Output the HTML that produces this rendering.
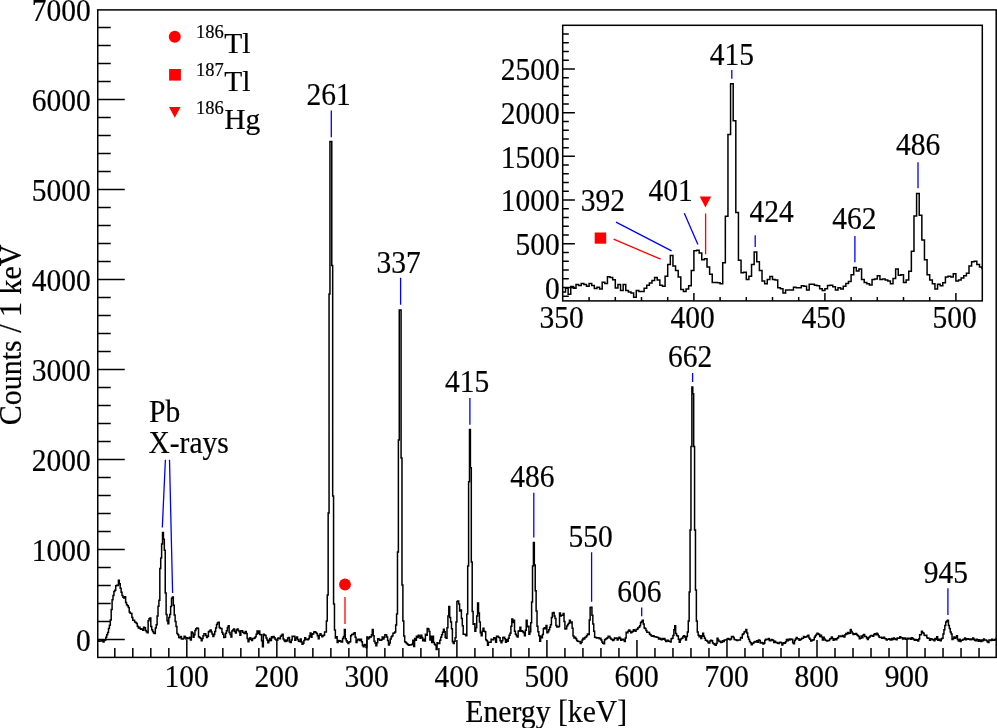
<!DOCTYPE html>
<html><head><meta charset="utf-8"><style>
html,body{margin:0;padding:0;background:#fff;}
svg{display:block;will-change:transform;}
text{font-family:"Liberation Serif",serif;stroke:#000;stroke-width:0.2px;}
</style></head><body>
<svg width="997" height="728" viewBox="0 0 997 728" font-family="Liberation Serif" font-size="29.5" fill="#000">
<path d="M97.75,640.3H98.6V641.25H99.5V640.94H100.4V641.05H101.3V640.46H102.2V640.97H103.1V641.99H104V640.48H104.9V639.93H105.8V637.2H106.7V634.72H107.6V632.38H108.5V628.47H109.4V625.28H110.3V619.91H111.2V609.6H112.1V599.65H113V595.4H113.9V591.49H114.8V590.23H115.71V585.74H116.61V585.14H117.51V585.42H118.41V580.29H119.31V583.65H120.21V588.32H121.11V592.17H122.01V595.57H122.91V597.25H123.81V597.9H124.71V596.8H125.61V602.41H126.51V604.72H127.41V605.79H128.31V607.61H129.21V611.95H130.11V613.32H131.01V613.53H131.91V617.48H132.81V620.24H133.71V620.35H134.61V621.9H135.51V622.44H136.41V623.41H137.31V626.24H138.21V628H139.11V627.19H140.01V628.76H140.91V629.22H141.81V628.95H142.71V630.2H143.61V627.15H144.51V627.76H145.41V630.46H146.31V631.66H147.21V632.66H148.11V620.65H149.01V618.79H149.91V618.1H150.81V626.46H151.72V629.81H152.62V631.51H153.52V633.06H154.42V633.49H155.32V628.06H156.22V624.78H157.12V615.93H158.02V606.37H158.92V600.33H159.82V568.4H160.72V557.98H161.62V543.9H162.52V532.6H163.42V539.2H164.32V550.2H165.22V592.99H166.12V614.45H167.02V620.66H167.92V623.68H168.82V617.59H169.72V614.5H170.62V606.41H171.52V598.2H172.42V597.08H173.32V605.15H174.22V615.03H175.12V621.4H176.02V626.39H176.92V633.58H177.82V634.77H178.72V637.41H179.62V637.77H180.52V636.42H181.42V639.05H182.32V639.06H183.22V638.5H184.12V636.31H185.02V637.19H185.92V639.06H186.82V637.75H187.73V638.44H188.63V638.52H189.53V637.27H190.43V640.09H191.33V632.04H192.23V633.12H193.13V637.36H194.03V634.76H194.93V630.53H195.83V628.72H196.73V628.03H197.63V628.57H198.53V636.83H199.43V637.58H200.33V638.15H201.23V640.66H202.13V638.6H203.03V635.64H203.93V633.72H204.83V633.69H205.73V635.58H206.63V637.46H207.53V636.13H208.43V631.71H209.33V631.01H210.23V630.07H211.13V632.07H212.03V634.05H212.93V636.4H213.83V634.42H214.73V631.38H215.63V628.08H216.53V624.49H217.43V622.76H218.33V622.16H219.23V627.52H220.13V628.42H221.03V628.4H221.93V632.46H222.83V634.25H223.74V637.47H224.64V637.36H225.54V633.33H226.44V630.8H227.34V627.61H228.24V625.84H229.14V632.43H230.04V634.56H230.94V636.97H231.84V630.88H232.74V629.92H233.64V629.1H234.54V631.57H235.44V632.89H236.34V630.03H237.24V628.92H238.14V630.38H239.04V631.75H239.94V635.24H240.84V630.78H241.74V630.81H242.64V632.32H243.54V633.12H244.44V633.44H245.34V631.47H246.24V633.41H247.14V638.57H248.04V641.67H248.94V639.58H249.84V637.86H250.74V639.13H251.64V640.57H252.54V638.54H253.44V638.62H254.34V637.93H255.24V636.71H256.14V634.17H257.04V630.91H257.94V633.47H258.84V631.04H259.75V634.47H260.65V634.81H261.55V640.68H262.45V646.86H263.35V634.28H264.25V634.89H265.15V635.54H266.05V637.94H266.95V639.96H267.85V642.73H268.75V640.87H269.65V638.56H270.55V640.46H271.45V636.75H272.35V637.8H273.25V636.39H274.15V637.81H275.05V639.16H275.95V640.08H276.85V640.27H277.75V638.3H278.65V638.09H279.55V638.64H280.45V636.34H281.35V635.25H282.25V634.32H283.15V639.12H284.05V640.5H284.95V641.46H285.85V639.91H286.75V641H287.65V638.03H288.55V637.51H289.45V641.73H290.35V642.39H291.25V639.99H292.15V636.29H293.05V636.53H293.95V636.26H294.86V640.13H295.76V638.32H296.66V637.12H297.56V639.5H298.46V641.33H299.36V641.51H300.26V638.88H301.16V641.92H302.06V644.29H302.96V643.36H303.86V640.45H304.76V637.7H305.66V639.45H306.56V639.33H307.46V639.8H308.36V638.87H309.26V635.92H310.16V633.06H311.06V637.29H311.96V634.32H312.86V633.8H313.76V631.95H314.66V631.73H315.56V632.56H316.46V633.47H317.36V635.63H318.26V638.66H319.16V635.36H320.06V633.63H320.96V635.15H321.86V636.7H322.76V635.66H323.66V635.25H324.56V631.91H325.46V631.93H326.36V621H327.26V595H328.16V513H329.06V294H329.96V141.5H330.87V141.5H331.77V265.6H332.67V496H333.57V604H334.47V630H335.37V638H336.27V636.73H337.17V642.56H338.07V640.51H338.97V641.18H339.87V640.85H340.77V641.83H341.67V641.93H342.57V638.49H343.47V636.44H344.37V629.44H345.27V638.72H346.17V640.63H347.07V642.33H347.97V643.49H348.87V642.1H349.77V641.86H350.67V635.67H351.57V634.42H352.47V634.38H353.37V633.43H354.27V632.81H355.17V637.3H356.07V642.53H356.97V640.47H357.87V639.29H358.77V639.19H359.67V640.44H360.57V639.25H361.47V641.8H362.37V645.42H363.27V646.67H364.17V644.41H365.07V645.27H365.97V647.49H366.88V637.11H367.78V639.06H368.68V638.06H369.58V636.75H370.48V636.98H371.38V634.68H372.28V629.62H373.18V635.68H374.08V641.23H374.98V643H375.88V645.82H376.78V642.75H377.68V638.83H378.58V638.88H379.48V640.13H380.38V640.23H381.28V639.69H382.18V637.03H383.08V639.02H383.98V637.26H384.88V634.66H385.78V634.89H386.68V637.05H387.58V640.45H388.48V644.88H389.38V642.89H390.28V638.96H391.18V636.76H392.08V635.71H392.98V633.2H393.88V632.96H394.78V632H395.68V625H396.58V614H397.48V552H398.38V440H399.28V310H400.18V310H401.08V458H401.98V585H402.88V621H403.79V636H404.69V641.77H405.59V642.38H406.49V643.46H407.39V644.23H408.29V645.16H409.19V644.82H410.09V645.07H410.99V644.69H411.89V644.24H412.79V640.33H413.69V646.41H414.59V638.47H415.49V640.33H416.39V636.31H417.29V637.44H418.19V635.28H419.09V636.31H419.99V638.16H420.89V635.28H421.79V637.44H422.69V640.64H423.59V639.19H424.49V641.05H425.39V634.15H426.29V635.28H427.19V628.38H428.09V629.1H428.99V631.57H429.89V639.92H430.79V636.31H431.69V642.49H432.59V636.31H433.49V642.49H434.39V644.14H435.29V645.17H436.19V649.6H437.09V642.7H437.99V643.62H438.89V643.62H439.8V640.22H440.7V637.24H441.6V634.76H442.5V632.29H443.4V629.3H444.3V631.78H445.2V637.24H446.1V638.27H447V627.86H447.9V615.91H448.8V606.53H449.7V617.45H450.6V621.88H451.5V628.79H452.4V641.67H453.3V643.62H454.2V641.15H455.1V637.75H456V621.88H456.9V601.59H457.8V601.07H458.7V604.06H459.6V610.96H460.5V609.93H461.4V618.38H462.3V625.8H463.2V634.25H464.1V634.25H465V634.56H465.9V635.69H466.8V613.95H467.7V566.04H468.6V481.86H469.5V429.52H470.4V467.64H471.3V562.12H472.2V611.48H473.1V624.36H474V623.84H474.91V631.26H475.81V627.86H476.71V615.91H477.61V603.03H478.51V612.92H479.41V621.88H480.31V632.81H481.21V635.69H482.11V631.26H483.01V628.27H483.91V631.26H484.81V631.78H485.71V639.71H486.61V640.74H487.51V645.17H488.41V642.18H489.31V642.18H490.21V642.18H491.11V639.19H492.01V639.71H492.91V639.71H493.81V637.75H494.71V638.27H495.61V642.18H496.51V636.21H497.41V636.21H498.31V637.24H499.21V637.75H500.11V640.74H501.01V642.7H501.91V640.74H502.81V637.55H503.71V637.24H504.61V638.68H505.51V642.18H506.41V639.71H507.31V641.15H508.21V638.27H509.11V635.28H510.01V633.22H510.92V626.31H511.82V618.9H512.72V622.4H513.62V620.34H514.52V631.26H515.42V634.25H516.32V635.69H517.22V636.93H518.12V631.26H519.02V630.75H519.92V627.35H520.82V631.26H521.72V630.75H522.62V631.78H523.52V632.81H524.42V635.69H525.32V630.33H526.22V620.34H527.12V626.83H528.02V626.31H528.92V634.25H529.82V631.78H530.72V622.81H531.62V602.1H532.52V565.94H533.42V542.55H534.32V565.11H535.22V590.67H536.12V610.96H537.02V626.31H537.92V631.78H538.82V635.69H539.72V641.15H540.62V636.21H541.52V637.75H542.42V634.56H543.32V628.79H544.22V627.86H545.12V628.79H546.02V625.39H546.92V632.81H547.83V631.78H548.73V629.82H549.63V627.35H550.53V624.87H551.43V617.45H552.33V612.92H553.23V612.51H554.13V615.91H555.03V618.38H555.93V625.61H556.83V627H557.73V626.97H558.63V626.62H559.53V612.93H560.43V615.97H561.33V615.21H562.23V615.26H563.13V613.53H564.03V621.59H564.93V629.08H565.83V628.86H566.73V626.01H567.63V624.55H568.53V623.31H569.43V620.24H570.33V622.63H571.23V622.06H572.13V628.14H573.03V635.96H573.93V637.94H574.83V637.18H575.73V638.65H576.63V640.57H577.53V641.15H578.43V641.58H579.33V641.62H580.23V643.55H581.13V642.24H582.03V640.04H582.93V638.25H583.84V638.96H584.74V637.61H585.64V636.96H586.54V635.83H587.44V633.9H588.34V634.41H589.24V620.07H590.14V607.5H591.04V607.35H591.94V615.32H592.84V624.02H593.74V631.3H594.64V637.27H595.54V637.4H596.44V637.91H597.34V637.77H598.24V637.65H599.14V638.77H600.04V638.34H600.94V639.96H601.84V641.9H602.74V643.29H603.64V643.71H604.54V639.83H605.44V639.11H606.34V638.44H607.24V637.73H608.14V636.13H609.04V636.54H609.94V638.03H610.84V639.04H611.74V639.55H612.64V640.45H613.54V639.63H614.44V637.94H615.34V638.35H616.24V638.02H617.14V639.95H618.04V638.83H618.94V637.26H619.85V638.3H620.75V640.26H621.65V639.56H622.55V639.3H623.45V640.09H624.35V641.42H625.25V638.02H626.15V632.24H627.05V632.79H627.95V631.27H628.85V629.98H629.75V631.25H630.65V632.72H631.55V631.88H632.45V631.52H633.35V629.83H634.25V630.58H635.15V631.28H636.05V629.49H636.95V629.13H637.85V627.78H638.75V627.23H639.65V625.73H640.55V622.44H641.45V621.39H642.35V620.23H643.25V624.02H644.15V627.98H645.05V628.43H645.95V630.56H646.85V632.18H647.75V632.21H648.65V632.47H649.55V634.35H650.45V635.07H651.35V636.12H652.25V636.13H653.15V635.82H654.05V636.71H654.95V636.63H655.86V636.94H656.76V637.28H657.66V637.41H658.56V638.98H659.46V638.26H660.36V639.2H661.26V639.7H662.16V638.53H663.06V639.35H663.96V638.56H664.86V640.04H665.76V641.45H666.66V641.09H667.56V640.36H668.46V641.37H669.36V641.27H670.26V642.09H671.16V638.71H672.06V638.19H672.96V635.49H673.86V629.85H674.76V625.84H675.66V633.42H676.56V635.56H677.46V636.08H678.36V639.14H679.26V642.2H680.16V639.63H681.06V638.42H681.96V638.15H682.86V636.4H683.76V635.78H684.66V636.93H685.56V639.9H686.46V636.57H687.36V631.96H688.26V621H689.16V592H690.06V530H690.96V446.6H691.87V387H692.77V393.7H693.67V446.6H694.57V530H695.47V590H696.37V621H697.27V632H698.17V635.27H699.07V636.84H699.97V635.85H700.87V638.6H701.77V635.97H702.67V633.34H703.57V636.23H704.47V638.3H705.37V640.34H706.27V640.43H707.17V641.19H708.07V642.76H708.97V642.94H709.87V641.07H710.77V640.35H711.67V640.86H712.57V642.96H713.47V643.75H714.37V644.56H715.27V645.36H716.17V643.61H717.07V638.22H717.97V640H718.87V641.48H719.77V641.2H720.67V642.43H721.57V642.16H722.47V640.72H723.37V641.5H724.27V640.12H725.17V640.07H726.07V639.81H726.97V638.97H727.88V638.53H728.78V639.33H729.68V639.65H730.58V638.91H731.48V636.44H732.38V636.5H733.28V637.49H734.18V639.4H735.08V639.84H735.98V640.11H736.88V640.56H737.78V639.93H738.68V640.07H739.58V640.12H740.48V637.57H741.38V638.06H742.28V634.6H743.18V633.68H744.08V632.1H744.98V631.59H745.88V629.5H746.78V632.88H747.68V637.1H748.58V639.24H749.48V641.57H750.38V642.69H751.28V644.82H752.18V643.56H753.08V643.03H753.98V642.11H754.88V641.58H755.78V642.11H756.68V640.84H757.58V642.17H758.48V639.99H759.38V640.6H760.28V643.12H761.18V642.42H762.08V642.8H762.98V643.94H763.89V643.22H764.79V640.14H765.69V639.21H766.59V639.47H767.49V639.57H768.39V638.38H769.29V640.55H770.19V640.66H771.09V639.52H771.99V639.81H772.89V640.6H773.79V642.53H774.69V641.28H775.59V642.54H776.49V642.62H777.39V643.24H778.29V643.44H779.19V642.47H780.09V642.19H780.99V642.78H781.89V645.05H782.79V643.42H783.69V642.81H784.59V643.22H785.49V641.66H786.39V639.44H787.29V640.83H788.19V639.16H789.09V639.94H789.99V638.94H790.89V639.56H791.79V639.14H792.69V642.87H793.59V643.69H794.49V640.6H795.39V638.93H796.29V637.39H797.19V638.74H798.09V638.68H799V640.15H799.9V639.63H800.8V639.33H801.7V638.13H802.6V638.31H803.5V636.46H804.4V637.14H805.3V637.03H806.2V636.86H807.1V636H808V635.28H808.9V638H809.8V639.21H810.7V640.98H811.6V640.52H812.5V640H813.4V639.82H814.3V637.27H815.2V635.85H816.1V634.59H817V633.24H817.9V633.83H818.8V634.54H819.7V636.48H820.6V635.3H821.5V637H822.4V640.04H823.3V637.23H824.2V639.02H825.1V640.34H826V640.49H826.9V640.88H827.8V640.61H828.7V640.4H829.6V639.03H830.5V638.42H831.4V636.97H832.3V638.5H833.2V640.2H834.1V639.15H835V638.78H835.91V639.76H836.81V638.48H837.71V637.77H838.61V636H839.51V635.92H840.41V636.53H841.31V636.52H842.21V635.47H843.11V636.58H844.01V636.96H844.91V634.73H845.81V633.52H846.71V634.06H847.61V632.53H848.51V633.51H849.41V633.13H850.31V629.56H851.21V631.38H852.11V632.88H853.01V634.42H853.91V633.67H854.81V634.32H855.71V633.58H856.61V634.79H857.51V635.56H858.41V636.38H859.31V638.86H860.21V638.25H861.11V635.95H862.01V637.8H862.91V635.32H863.81V634.56H864.71V636.62H865.61V636.6H866.51V637.9H867.41V639.59H868.31V637.71H869.21V636.9H870.11V636.11H871.01V635.46H871.92V635.8H872.82V636.15H873.72V634.5H874.62V633.82H875.52V634.79H876.42V633.35H877.32V634.13H878.22V635.82H879.12V637.36H880.02V637.59H880.92V637.27H881.82V638.22H882.72V638H883.62V637.29H884.52V638.62H885.42V638.8H886.32V639.97H887.22V639.33H888.12V639.2H889.02V638.84H889.92V639.84H890.82V640.02H891.72V638.54H892.62V639.44H893.52V638.09H894.42V638.67H895.32V639.14H896.22V639.68H897.12V638.09H898.02V638.18H898.92V638.24H899.82V636.74H900.72V637.81H901.62V637.75H902.52V639.03H903.42V638.28H904.32V638.02H905.22V639.31H906.12V639.18H907.02V638.24H907.93V639.11H908.83V638.34H909.73V638.23H910.63V639.24H911.53V637.75H912.43V638.62H913.33V639.3H914.23V640.14H915.13V639.47H916.03V640.24H916.93V639.83H917.83V641.04H918.73V639.08H919.63V634.85H920.53V634.66H921.43V631.18H922.33V632.41H923.23V633.14H924.13V635.18H925.03V635.61H925.93V635.19H926.83V637.72H927.73V638.23H928.63V638.3H929.53V640.32H930.43V638.67H931.33V639H932.23V639.74H933.13V639.49H934.03V640.68H934.93V638.51H935.83V639.3H936.73V636.84H937.63V640.25H938.53V639.3H939.43V640.34H940.33V640.85H941.23V638.76H942.13V638.2H943.03V634.12H943.94V629.83H944.84V625.57H945.74V622.01H946.64V620.94H947.54V620.35H948.44V625.56H949.34V628.39H950.24V632.1H951.14V633.97H952.04V639.53H952.94V638.44H953.84V636.96H954.74V638.36H955.64V637.28H956.54V635.83H957.44V639.54H958.34V641.08H959.24V639.25H960.14V641.49H961.04V640.17H961.94V640.31H962.84V639.61H963.74V639.18H964.64V637.91H965.54V639.78H966.44V639.02H967.34V638.77H968.24V639.28H969.14V639.06H970.04V639.67H970.94V638.99H971.84V639.4H972.74V637.89H973.64V639.26H974.54V640.14H975.44V640.67H976.34V639.31H977.24V639.64H978.14V641.15H979.04V639.77H979.95V640.79H980.85V641.41H981.75V639.95H982.65V640.75H983.55V639.03H984.45V640.03H985.35V640.1H986.25V640.56H987.15V641.7H988.05V642.58H988.95V639.98H989.85V639.91H990.75V640.6H991.65V639.23H992.55V640.34H993.45V640.26H994.35V639.38H995.25V640.02H996.15V638.36H996.2" fill="none" stroke="#000" stroke-width="1.5" stroke-linejoin="miter"/>
<rect x="97.75" y="9.9" width="898.45" height="647.5" fill="none" stroke="#000" stroke-width="1.5"/>
<path d="M97.75,639.4 h27 M97.75,621.4 h13 M97.75,603.4 h13 M97.75,585.4 h13 M97.75,567.4 h13 M97.75,549.4 h27 M97.75,531.4 h13 M97.75,513.4 h13 M97.75,495.4 h13 M97.75,477.4 h13 M97.75,459.4 h27 M97.75,441.4 h13 M97.75,423.4 h13 M97.75,405.4 h13 M97.75,387.4 h13 M97.75,369.4 h27 M97.75,351.4 h13 M97.75,333.4 h13 M97.75,315.4 h13 M97.75,297.4 h13 M97.75,279.4 h27 M97.75,261.4 h13 M97.75,243.4 h13 M97.75,225.4 h13 M97.75,207.4 h13 M97.75,189.4 h27 M97.75,171.4 h13 M97.75,153.4 h13 M97.75,135.4 h13 M97.75,117.4 h13 M97.75,99.4 h27 M97.75,81.4 h13 M97.75,63.4 h13 M97.75,45.4 h13 M97.75,27.4 h13 M114.8,657.4 v-9.5 M132.81,657.4 v-9.5 M150.81,657.4 v-9.5 M168.82,657.4 v-9.5 M186.82,657.4 v-17.5 M204.83,657.4 v-9.5 M222.83,657.4 v-9.5 M240.84,657.4 v-9.5 M258.84,657.4 v-9.5 M276.85,657.4 v-17.5 M294.86,657.4 v-9.5 M312.86,657.4 v-9.5 M330.87,657.4 v-9.5 M348.87,657.4 v-9.5 M366.88,657.4 v-17.5 M384.88,657.4 v-9.5 M402.88,657.4 v-9.5 M420.89,657.4 v-9.5 M438.89,657.4 v-9.5 M456.9,657.4 v-17.5 M474.91,657.4 v-9.5 M492.91,657.4 v-9.5 M510.92,657.4 v-9.5 M528.92,657.4 v-9.5 M546.92,657.4 v-17.5 M564.93,657.4 v-9.5 M582.93,657.4 v-9.5 M600.94,657.4 v-9.5 M618.94,657.4 v-9.5 M636.95,657.4 v-17.5 M654.95,657.4 v-9.5 M672.96,657.4 v-9.5 M690.96,657.4 v-9.5 M708.97,657.4 v-9.5 M726.97,657.4 v-17.5 M744.98,657.4 v-9.5 M762.98,657.4 v-9.5 M780.99,657.4 v-9.5 M799,657.4 v-9.5 M817,657.4 v-17.5 M835,657.4 v-9.5 M853.01,657.4 v-9.5 M871.01,657.4 v-9.5 M889.02,657.4 v-9.5 M907.02,657.4 v-17.5 M925.03,657.4 v-9.5 M943.03,657.4 v-9.5 M961.04,657.4 v-9.5 M979.04,657.4 v-9.5" stroke="#000" stroke-width="1.5" fill="none"/>
<text transform="translate(90.7,651) scale(1,1.07)" text-anchor="end">0</text>
<text transform="translate(90.7,561) scale(1,1.07)" text-anchor="end">1000</text>
<text transform="translate(90.7,471) scale(1,1.07)" text-anchor="end">2000</text>
<text transform="translate(90.7,381) scale(1,1.07)" text-anchor="end">3000</text>
<text transform="translate(90.7,291) scale(1,1.07)" text-anchor="end">4000</text>
<text transform="translate(90.7,201) scale(1,1.07)" text-anchor="end">5000</text>
<text transform="translate(90.7,111) scale(1,1.07)" text-anchor="end">6000</text>
<text transform="translate(90.7,21) scale(1,1.07)" text-anchor="end">7000</text>
<text transform="translate(186.52,687) scale(1,1.07)" text-anchor="middle">100</text>
<text transform="translate(276.55,687) scale(1,1.07)" text-anchor="middle">200</text>
<text transform="translate(366.57,687) scale(1,1.07)" text-anchor="middle">300</text>
<text transform="translate(456.6,687) scale(1,1.07)" text-anchor="middle">400</text>
<text transform="translate(546.62,687) scale(1,1.07)" text-anchor="middle">500</text>
<text transform="translate(636.65,687) scale(1,1.07)" text-anchor="middle">600</text>
<text transform="translate(726.67,687) scale(1,1.07)" text-anchor="middle">700</text>
<text transform="translate(816.7,687) scale(1,1.07)" text-anchor="middle">800</text>
<text transform="translate(906.73,687) scale(1,1.07)" text-anchor="middle">900</text>
<text transform="translate(627.2,721.5) scale(1,1.05)" text-anchor="end" font-size="29.7">Energy [keV]</text>
<text transform="translate(20.5,244.5) rotate(-90) scale(1,1.05)" text-anchor="end" font-size="30">Counts / 1 keV</text>
<circle cx="174.8" cy="36.8" r="6" fill="#f00"/>
<rect x="169.1" y="69" width="11.8" height="11.6" fill="#f00"/>
<path d="M169,106.9 L180.6,106.9 L174.8,117.8 Z" fill="#f00"/>
<text x="196" y="38.4" font-size="18.5">186</text>
<text x="224.3" y="53">Tl</text>
<text x="196" y="76.3" font-size="18.5">187</text>
<text x="224.3" y="90.9">Tl</text>
<text x="196" y="114.2" font-size="18.5">186</text>
<text x="224.3" y="128.8">Hg</text>
<text transform="translate(328.65,105.1) scale(1,1.07)" text-anchor="middle">261</text>
<text transform="translate(398.6,272.8) scale(1,1.07)" text-anchor="middle">337</text>
<text transform="translate(467,392.3) scale(1,1.07)" text-anchor="middle">415</text>
<text transform="translate(532.45,486.8) scale(1,1.07)" text-anchor="middle">486</text>
<text transform="translate(590.55,547.2) scale(1,1.07)" text-anchor="middle">550</text>
<text transform="translate(639.35,602.1) scale(1,1.07)" text-anchor="middle">606</text>
<text transform="translate(690.1,366.9) scale(1,1.07)" text-anchor="middle">662</text>
<text transform="translate(945.75,582.6) scale(1,1.07)" text-anchor="middle">945</text>
<text transform="translate(149,422) scale(1,1.05)">Pb</text>
<text transform="translate(148.5,452.9) scale(1,1.05)">X-rays</text>
<path d="M331.3,110.4 L331.3,137.3 M400.6,277.7 L400.6,304.8 M469.9,397.9 L469.9,424.8 M533.8,492.7 L533.8,537.6 M591.6,552.3 L591.6,601.7 M641.7,607.4 L641.7,616.3 M692.6,373 L692.6,382 M947.9,588.2 L947.9,615.1 M165.4,459.7 L162.3,527.5 M169.5,459.7 L172.6,593" stroke="#00f" stroke-width="1.3" fill="none"/>
<circle cx="345" cy="584.5" r="5.9" fill="#f00"/>
<path d="M345,597.1 V623.9" stroke="#f00" stroke-width="1.3"/>
<rect x="562.7" y="25.3" width="419.6" height="275.6" fill="#fff" stroke="#000" stroke-width="1.5"/>
<path d="M563.2,292.1 L562.9,292.1 L565.52,292.1 L565.52,288.3 L568.14,288.3 L568.14,294.2 L570.76,294.2 L570.76,286.5 L573.38,286.5 L573.38,288.3 L576,288.3 L576,284.4 L578.62,284.4 L578.62,285.5 L581.24,285.5 L581.24,283.4 L583.86,283.4 L583.86,284.4 L586.48,284.4 L586.48,286.2 L589.1,286.2 L589.1,283.4 L591.72,283.4 L591.72,285.5 L594.34,285.5 L594.34,288.6 L596.96,288.6 L596.96,287.2 L599.58,287.2 L599.58,289 L602.2,289 L602.2,282.3 L604.82,282.3 L604.82,283.4 L607.44,283.4 L607.44,276.7 L610.06,276.7 L610.06,277.4 L612.68,277.4 L612.68,279.8 L615.3,279.8 L615.3,287.9 L617.92,287.9 L617.92,284.4 L620.54,284.4 L620.54,290.4 L623.16,290.4 L623.16,284.4 L625.78,284.4 L625.78,290.4 L628.4,290.4 L628.4,292 L631.02,292 L631.02,293 L633.64,293 L633.64,297.3 L636.26,297.3 L636.26,290.6 L638.88,290.6 L638.88,291.5 L641.5,291.5 L641.5,291.5 L644.12,291.5 L644.12,288.2 L646.74,288.2 L646.74,285.3 L649.36,285.3 L649.36,282.9 L651.98,282.9 L651.98,280.5 L654.6,280.5 L654.6,277.6 L657.22,277.6 L657.22,280 L659.84,280 L659.84,285.3 L662.46,285.3 L662.46,286.3 L665.08,286.3 L665.08,276.2 L667.7,276.2 L667.7,264.6 L670.32,264.6 L670.32,255.5 L672.94,255.5 L672.94,266.1 L675.56,266.1 L675.56,270.4 L678.18,270.4 L678.18,277.1 L680.8,277.1 L680.8,289.6 L683.42,289.6 L683.42,291.5 L686.04,291.5 L686.04,289.1 L688.66,289.1 L688.66,285.8 L691.28,285.8 L691.28,270.4 L693.9,270.4 L693.9,250.7 L696.52,250.7 L696.52,250.2 L699.14,250.2 L699.14,253.1 L701.76,253.1 L701.76,259.8 L704.38,259.8 L704.38,258.8 L707,258.8 L707,267 L709.62,267 L709.62,274.2 L712.24,274.2 L712.24,282.4 L714.86,282.4 L714.86,282.4 L717.48,282.4 L717.48,282.7 L720.1,282.7 L720.1,283.8 L722.72,283.8 L722.72,262.7 L725.34,262.7 L725.34,216.2 L727.96,216.2 L727.96,134.5 L730.58,134.5 L730.58,83.7 L733.2,83.7 L733.2,120.7 L735.82,120.7 L735.82,212.4 L738.44,212.4 L738.44,260.3 L741.06,260.3 L741.06,272.8 L743.68,272.8 L743.68,272.3 L746.3,272.3 L746.3,279.5 L748.92,279.5 L748.92,276.2 L751.54,276.2 L751.54,264.6 L754.16,264.6 L754.16,252.1 L756.78,252.1 L756.78,261.7 L759.4,261.7 L759.4,270.4 L762.02,270.4 L762.02,281 L764.64,281 L764.64,283.8 L767.26,283.8 L767.26,279.5 L769.88,279.5 L769.88,276.6 L772.5,276.6 L772.5,279.5 L775.12,279.5 L775.12,280 L777.74,280 L777.74,287.7 L780.36,287.7 L780.36,288.7 L782.98,288.7 L782.98,293 L785.6,293 L785.6,290.1 L788.22,290.1 L788.22,290.1 L790.84,290.1 L790.84,290.1 L793.46,290.1 L793.46,287.2 L796.08,287.2 L796.08,287.7 L798.7,287.7 L798.7,287.7 L801.32,287.7 L801.32,285.8 L803.94,285.8 L803.94,286.3 L806.56,286.3 L806.56,290.1 L809.18,290.1 L809.18,284.3 L811.8,284.3 L811.8,284.3 L814.42,284.3 L814.42,285.3 L817.04,285.3 L817.04,285.8 L819.66,285.8 L819.66,288.7 L822.28,288.7 L822.28,290.6 L824.9,290.6 L824.9,288.7 L827.52,288.7 L827.52,285.6 L830.14,285.6 L830.14,285.3 L832.76,285.3 L832.76,286.7 L835.38,286.7 L835.38,290.1 L838,290.1 L838,287.7 L840.62,287.7 L840.62,289.1 L843.24,289.1 L843.24,286.3 L845.86,286.3 L845.86,283.4 L848.48,283.4 L848.48,281.4 L851.1,281.4 L851.1,274.7 L853.72,274.7 L853.72,267.5 L856.34,267.5 L856.34,270.9 L858.96,270.9 L858.96,268.9 L861.58,268.9 L861.58,279.5 L864.2,279.5 L864.2,282.4 L866.82,282.4 L866.82,283.8 L869.44,283.8 L869.44,285 L872.06,285 L872.06,279.5 L874.68,279.5 L874.68,279 L877.3,279 L877.3,275.7 L879.92,275.7 L879.92,279.5 L882.54,279.5 L882.54,279 L885.16,279 L885.16,280 L887.78,280 L887.78,281 L890.4,281 L890.4,283.8 L893.02,283.8 L893.02,278.6 L895.64,278.6 L895.64,268.9 L898.26,268.9 L898.26,275.2 L900.88,275.2 L900.88,274.7 L903.5,274.7 L903.5,282.4 L906.12,282.4 L906.12,280 L908.74,280 L908.74,271.3 L911.36,271.3 L911.36,251.2 L913.98,251.2 L913.98,216.1 L916.6,216.1 L916.6,193.4 L919.22,193.4 L919.22,215.3 L921.84,215.3 L921.84,240.1 L924.46,240.1 L924.46,259.8 L927.08,259.8 L927.08,274.7 L929.7,274.7 L929.7,280 L932.32,280 L932.32,283.8 L934.94,283.8 L934.94,289.1 L937.56,289.1 L937.56,284.3 L940.18,284.3 L940.18,285.8 L942.8,285.8 L942.8,282.7 L945.42,282.7 L945.42,277.1 L948.04,277.1 L948.04,276.2 L950.66,276.2 L950.66,277.1 L953.28,277.1 L953.28,273.8 L955.9,273.8 L955.9,281 L958.52,281 L958.52,280 L961.14,280 L961.14,278.1 L963.76,278.1 L963.76,275.7 L966.38,275.7 L966.38,273.3 L969,273.3 L969,266.1 L971.62,266.1 L971.62,261.7 L974.24,261.7 L974.24,261.3 L976.86,261.3 L976.86,264.6 L979.48,264.6 L979.48,267 L982.1,267 L982.1,269 L981.8,269" fill="none" stroke="#000" stroke-width="1.5"/>
<path d="M562.7,296.13 h6.1 M562.7,287.4 h12.2 M562.7,278.66 h6.1 M562.7,269.93 h6.1 M562.7,261.19 h6.1 M562.7,252.46 h6.1 M562.7,243.72 h12.2 M562.7,234.99 h6.1 M562.7,226.25 h6.1 M562.7,217.52 h6.1 M562.7,208.78 h6.1 M562.7,200.05 h12.2 M562.7,191.31 h6.1 M562.7,182.58 h6.1 M562.7,173.84 h6.1 M562.7,165.11 h6.1 M562.7,156.37 h12.2 M562.7,147.64 h6.1 M562.7,138.9 h6.1 M562.7,130.17 h6.1 M562.7,121.43 h6.1 M562.7,112.7 h12.2 M562.7,103.96 h6.1 M562.7,95.23 h6.1 M562.7,86.49 h6.1 M562.7,77.76 h6.1 M562.7,69.02 h12.2 M562.7,60.29 h6.1 M562.7,51.55 h6.1 M562.7,42.82 h6.1 M562.7,34.08 h6.1 M589.1,300.9 v-4 M615.3,300.9 v-4 M641.5,300.9 v-4 M667.7,300.9 v-4 M693.9,300.9 v-8 M720.1,300.9 v-4 M746.3,300.9 v-4 M772.5,300.9 v-4 M798.7,300.9 v-4 M824.9,300.9 v-8 M851.1,300.9 v-4 M877.3,300.9 v-4 M903.5,300.9 v-4 M929.7,300.9 v-4 M955.9,300.9 v-8" stroke="#000" stroke-width="1.5" fill="none"/>
<text transform="translate(559.7,298.7) scale(1,1.07)" text-anchor="end">0</text>
<text transform="translate(559.7,255.02) scale(1,1.07)" text-anchor="end">500</text>
<text transform="translate(559.7,211.35) scale(1,1.07)" text-anchor="end">1000</text>
<text transform="translate(559.7,167.67) scale(1,1.07)" text-anchor="end">1500</text>
<text transform="translate(559.7,124) scale(1,1.07)" text-anchor="end">2000</text>
<text transform="translate(559.7,80.32) scale(1,1.07)" text-anchor="end">2500</text>
<text transform="translate(561.5,328.1) scale(1,1.07)" text-anchor="middle">350</text>
<text transform="translate(692.5,328.1) scale(1,1.07)" text-anchor="middle">400</text>
<text transform="translate(823.5,328.1) scale(1,1.07)" text-anchor="middle">450</text>
<text transform="translate(954.5,328.1) scale(1,1.07)" text-anchor="middle">500</text>
<text transform="translate(731.75,64.5) scale(1,1.07)" text-anchor="middle">415</text>
<text transform="translate(602.75,210.7) scale(1,1.07)" text-anchor="middle">392</text>
<text transform="translate(670.7,200.9) scale(1,1.07)" text-anchor="middle">401</text>
<text transform="translate(771.6,221.7) scale(1,1.07)" text-anchor="middle">424</text>
<text transform="translate(854.35,229) scale(1,1.07)" text-anchor="middle">462</text>
<text transform="translate(918.1,155.4) scale(1,1.07)" text-anchor="middle">486</text>
<path d="M731.8,70 L731.8,78.7 M616,222.2 L671.6,250.8 M684.3,213.3 L697.9,244.4 M755.2,235.2 L755.2,246.9 M854.9,236.1 L854.9,262.3 M918,162.2 L918,188.2" stroke="#00f" stroke-width="1.3" fill="none"/>
<rect x="594.7" y="232.5" width="11.5" height="11.2" fill="#f00"/>
<path d="M613.6,239.2 L660.7,259.2 M705.6,213.5 V254.3" stroke="#f00" stroke-width="1.3" fill="none"/>
<path d="M699.7,196.4 L711.2,196.4 L705.45,207.6 Z" fill="#f00"/>
</svg>
</body></html>
